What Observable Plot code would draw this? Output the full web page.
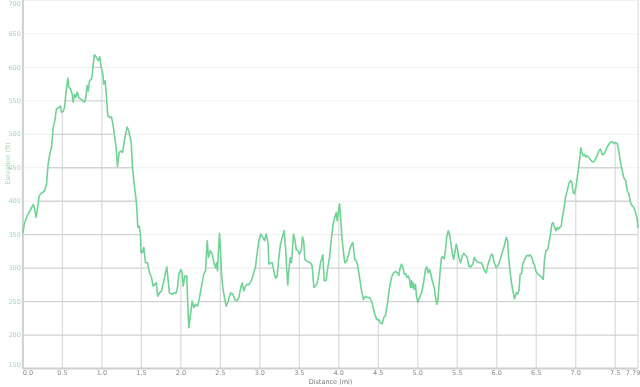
<!DOCTYPE html>
<html>
<head>
<meta charset="utf-8">
<script src="https://cdn.jsdelivr.net/npm/d3@7"></script>
<script src="https://cdn.jsdelivr.net/npm/@observablehq/plot@0.6"></script>
<style>
  html, body { margin: 0; padding: 0; background: #fff; }
  #chart svg { display: block; font-family: "DejaVu Sans", Verdana, sans-serif; }
</style>
</head>
<body>
<div id="chart"></div>
<script>
const distance = [0.00,0.02,0.054,0.096,0.130,0.147,0.168,0.189,0.206,0.232,0.274,0.299,0.320,0.341,0.362,0.384,0.404,0.425,0.455,0.476,0.489,0.510,0.527,0.548,0.569,0.581,0.603,0.624,0.637,0.653,0.670,0.688,0.708,0.729,0.755,0.780,0.797,0.814,0.827,0.843,0.865,0.878,0.890,0.907,0.932,0.954,0.974,0.992,1.012,1.024,1.042,1.059,1.075,1.100,1.122,1.143,1.164,1.181,1.198,1.219,1.245,1.261,1.278,1.299,1.321,1.341,1.371,1.388,1.409,1.435,1.447,1.455,1.473,1.489,1.496,1.511,1.531,1.552,1.578,1.603,1.628,1.650,1.670,1.688,1.708,1.730,1.755,1.780,1.805,1.822,1.840,1.856,1.891,1.916,1.941,1.958,1.974,2.000,2.017,2.030,2.050,2.075,2.088,2.101,2.122,2.144,2.164,2.186,2.211,2.236,2.262,2.291,2.312,2.334,2.350,2.372,2.397,2.422,2.439,2.452,2.464,2.477,2.490,2.502,2.515,2.531,2.553,2.574,2.600,2.629,2.658,2.683,2.709,2.734,2.759,2.777,2.797,2.819,2.840,2.861,2.895,2.924,2.945,2.967,2.987,3.013,3.038,3.059,3.081,3.106,3.114,3.135,3.157,3.177,3.199,3.220,3.241,3.262,3.284,3.309,3.325,3.342,3.354,3.367,3.385,3.401,3.427,3.443,3.461,3.481,3.503,3.524,3.541,3.557,3.570,3.600,3.642,3.663,3.684,3.705,3.727,3.747,3.768,3.798,3.815,3.841,3.857,3.883,3.908,3.929,3.950,3.967,3.980,3.997,4.009,4.026,4.043,4.060,4.076,4.098,4.119,4.140,4.161,4.178,4.190,4.203,4.221,4.237,4.263,4.288,4.313,4.338,4.364,4.389,4.414,4.431,4.456,4.482,4.507,4.525,4.550,4.570,4.592,4.617,4.642,4.668,4.693,4.718,4.743,4.760,4.778,4.795,4.811,4.829,4.845,4.861,4.879,4.896,4.908,4.921,4.930,4.942,4.955,4.971,4.984,5.001,5.022,5.047,5.073,5.098,5.115,5.132,5.149,5.166,5.183,5.208,5.225,5.241,5.254,5.267,5.285,5.301,5.317,5.335,5.352,5.368,5.386,5.402,5.419,5.436,5.453,5.469,5.487,5.504,5.520,5.541,5.563,5.583,5.605,5.626,5.647,5.672,5.697,5.715,5.732,5.757,5.782,5.807,5.824,5.845,5.867,5.883,5.909,5.934,5.950,5.968,5.993,6.019,6.044,6.069,6.095,6.120,6.137,6.153,6.171,6.187,6.204,6.225,6.247,6.263,6.280,6.297,6.314,6.330,6.356,6.381,6.406,6.419,6.444,6.462,6.478,6.495,6.513,6.533,6.555,6.571,6.589,6.605,6.622,6.647,6.665,6.681,6.698,6.715,6.732,6.748,6.766,6.782,6.799,6.817,6.834,6.850,6.871,6.893,6.913,6.934,6.951,6.969,6.985,7.002,7.019,7.036,7.052,7.065,7.077,7.095,7.112,7.128,7.146,7.166,7.187,7.209,7.229,7.251,7.272,7.293,7.314,7.336,7.356,7.378,7.399,7.419,7.441,7.462,7.483,7.504,7.526,7.546,7.567,7.589,7.609,7.631,7.652,7.673,7.694,7.716,7.736,7.757,7.779,7.787];
const elevation = [353,367,378,387,395,389,376,393,408,412,415,426,456,471,480,510,520,538,540,542,533,534,540,565,584,570,568,560,548,560,555,563,555,553,551,548,555,573,565,580,582,588,605,619,615,610,616,600,590,575,580,555,528,525,526,513,495,480,452,473,475,473,485,500,511,505,488,450,426,401,381,361,363,351,323,323,331,308,308,293,286,273,276,278,258,263,266,278,293,302,281,263,261,263,263,271,291,298,293,273,288,288,246,211,231,251,241,246,243,256,273,291,296,341,316,326,321,306,301,308,296,328,352,326,291,271,256,243,251,263,261,253,251,256,271,278,266,273,276,275,282,293,302,323,341,351,346,341,351,336,306,308,308,296,285,288,316,336,346,356,331,296,275,296,316,308,351,343,328,326,321,326,347,338,313,310,308,303,271,273,278,291,308,320,281,282,298,316,346,366,376,383,371,386,396,371,341,323,308,310,318,328,336,338,326,313,311,305,286,266,253,258,256,256,251,243,231,223,223,218,217,226,230,248,271,286,293,295,293,289,301,306,302,291,292,286,288,283,271,281,271,278,268,276,258,249,256,263,278,298,302,293,298,291,281,271,256,246,251,271,298,316,317,314,328,348,356,351,338,323,313,323,336,328,316,308,318,322,319,316,303,302,306,316,312,309,308,308,303,296,293,303,313,321,319,308,301,304,313,323,333,346,341,313,293,278,266,254,263,261,266,291,292,306,314,319,318,320,316,308,305,296,292,290,288,286,283,313,326,328,341,351,366,368,361,356,361,358,361,363,378,388,406,416,426,431,428,413,411,421,435,450,465,480,473,468,470,466,468,465,462,459,459,463,468,475,478,470,470,475,481,485,488,489,486,488,486,475,458,446,435,431,416,411,398,393,391,383,373,361];
const xTicks = [0, 0.5, 1, 1.5, 2, 2.5, 3, 3.5, 4, 4.5, 5, 5.5, 6, 6.5, 7, 7.5, 7.79];
const yTicks = [150, 200, 250, 300, 350, 400, 450, 500, 550, 600, 650, 700];
const xLabel = "Distance (mi)";
const yLabel = "Elevation (ft)";

const data = distance.map((d, i) => ({d, e: elevation[i]}));
const midX = xTicks.slice(1, -1);
const fmtX = d => d === 7.79 ? "7.79" : d.toFixed(1);
const fs = 6.5;

const chart = Plot.plot({
  width: 640,
  height: 387,
  marginTop: 0,
  marginBottom: 19,
  marginLeft: 22.4,
  marginRight: 2.4,
  style: {background: "#fff", fontFamily: "DejaVu Sans, Verdana, sans-serif", overflow: "visible"},
  x: {domain: [0, 7.79]},
  y: {domain: [150, 700]},
  marks: [
    Plot.ruleY(yTicks.slice(1), {stroke: "#dcdcdc", strokeWidth: 1.3}),
    Plot.ruleX(xTicks.slice(1), {stroke: "#dcdcdc", strokeWidth: 1.3}),
    Plot.areaY(data, {x: "d", y1: "e", y2: 700, fill: "#fff"}),
    Plot.ruleY(yTicks.slice(1), {stroke: "#f1f1f1", strokeWidth: 1, mixBlendMode: "multiply"}),
    Plot.ruleX([0], {stroke: "#cfcfcf", strokeWidth: 2}),
    Plot.ruleY([150], {stroke: "#cfcfcf", strokeWidth: 2.2}),
    Plot.line(data, {x: "d", y: "e", stroke: "#6fd393", strokeWidth: 1.6}),
    Plot.axisX(midX, {tickSize: 0, tickPadding: 2, fontSize: fs, fill: "#888", tickFormat: fmtX, label: null}),
    Plot.axisX([0], {tickSize: 0, tickPadding: 2, fontSize: fs, fill: "#888", tickFormat: fmtX, dx: 5, label: null}),
    Plot.axisX([7.79], {tickSize: 0, tickPadding: 2, fontSize: fs, fill: "#888", tickFormat: fmtX, dx: -5, label: null}),
    Plot.axisY(yTicks.slice(1, -1), {tickSize: 0, tickPadding: 2, fontSize: fs, fill: "#9fd9b2", label: null}),
    Plot.axisY([150], {tickSize: 0, tickPadding: 2, fontSize: fs, fill: "#9fd9b2", dy: -4, label: null}),
    Plot.axisY([700], {tickSize: 0, tickPadding: 2, fontSize: fs, fill: "#9fd9b2", dy: 3, label: null}),
    Plot.text([xLabel], {frameAnchor: "bottom", dy: 15, fontSize: fs, fill: "#777"}),
    Plot.text([yLabel], {frameAnchor: "left", dx: -15, rotate: -90, fontSize: fs, fill: "#9fd9b2"})
  ]
});
document.getElementById("chart").appendChild(chart);
</script>
</body>
</html>
